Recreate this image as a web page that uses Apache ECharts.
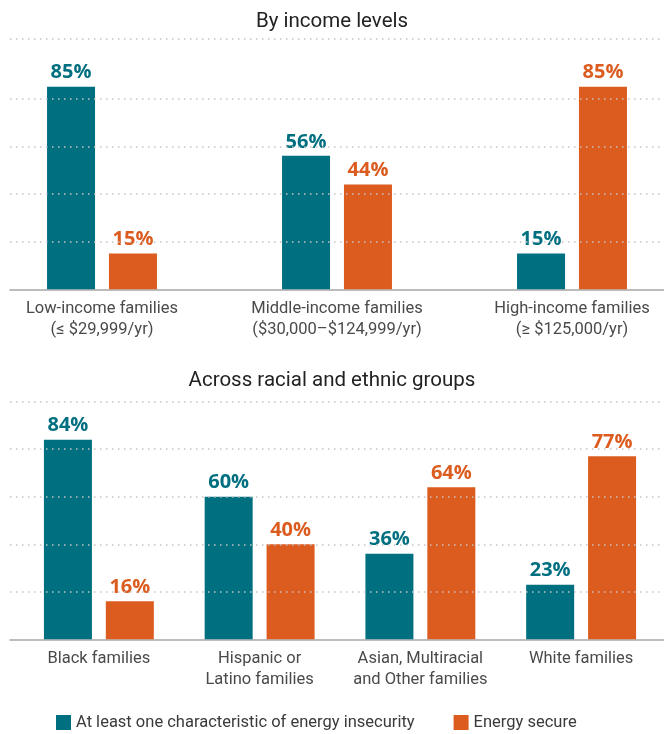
<!DOCTYPE html>
<html>
<head>
<meta charset="utf-8">
<script src="https://cdn.jsdelivr.net/npm/echarts@6/dist/echarts.min.js"></script>
<style>
  html, body { margin: 0; padding: 0; background: #fff; }
  #chart { width: 664px; height: 734px; }
</style>
</head>
<body>
<div id="chart"></div>
<script>
const incomeCats = [
  "Low-income families\n(≤ $29,999/yr)",
  "Middle-income families\n($30,000–$124,999/yr)",
  "High-income families\n(≥ $125,000/yr)",
];
const incomeInsecure = [85, 56, 15];
const incomeSecure = [15, 44, 85];

const raceCats = [
  "Black families",
  "Hispanic or\nLatino families",
  "Asian, Multiracial\nand Other families",
  "White families",
];
const raceInsecure = [84, 60, 36, 23];
const raceSecure = [16, 40, 64, 77];

const incomeGridLines = [20, 40, 60, 80, 105];
const raceGridLines = [20, 40, 60, 80, 100];

const seriesNames = ["At least one characteristic of energy insecurity", "Energy secure"];
const TEAL = "#006f80";
const ORANGE = "#dc5b1f";
const FONT = "Roboto";

const chart = echarts.init(document.getElementById("chart"));

// bars of one chart: label coloured like its bar
const barSeries = (name, data, color, axis) => ({
  name,
  type: "bar",
  xAxisIndex: axis,
  yAxisIndex: axis,
  data,
  barWidth: 48,
  barGap: "29%",
  itemStyle: { color },
  label: {
    show: true,
    position: "top",
    distance: 4,
    formatter: "{c}%",
    color,
    fontFamily: "Open Sans",
    fontWeight: "bold",
    fontSize: 20,
  },
  animation: false,
});

// dotted gridlines drawn on an empty helper series of a full-width grid
const gridSeries = (values, axis) => ({
  type: "line",
  xAxisIndex: axis,
  yAxisIndex: axis,
  data: [],
  silent: true,
  animation: false,
  markLine: {
    silent: true,
    symbol: "none",
    animation: false,
    label: { show: false },
    lineStyle: { color: "#c4c4c4", width: 1.5, type: [1.5, 4.5] },
    data: values.map((v) => ({ yAxis: v })),
  },
});

const catAxis = (data, grid) => ({
  type: "category",
  gridIndex: grid,
  data,
  axisLine: { show: false },
  axisTick: { show: false },
  axisLabel: {
    interval: 0,
    margin: 9,
    color: "#4a4a4a",
    fontFamily: FONT,
    fontSize: 16.5,
    lineHeight: 21,
  },
});

const helperXAxis = (grid) => ({
  type: "value",
  gridIndex: grid,
  min: 0,
  max: 1,
  axisLine: { show: true, onZero: true, lineStyle: { color: "#a6a6a6", width: 1.5 } },
  axisTick: { show: false },
  axisLabel: { show: false },
  splitLine: { show: false },
});

const valAxis = (grid, max) => ({
  type: "value",
  gridIndex: grid,
  min: 0,
  max,
  show: false,
  splitLine: { show: false },
});

const option = {
  backgroundColor: "#fff",
  title: [
    {
      text: "By income levels",
      left: "center",
      top: 6,
      textStyle: { fontFamily: FONT, fontSize: 20.5, fontWeight: "normal", color: "#222" },
    },
    {
      text: "Across racial and ethnic groups",
      left: "center",
      top: 365,
      textStyle: { fontFamily: FONT, fontSize: 20.5, fontWeight: "normal", color: "#222" },
    },
  ],
  legend: {
    data: seriesNames,
    left: 51,
    top: 709,
    icon: "rect",
    itemWidth: 15,
    itemHeight: 15,
    itemGap: 39,
    textStyle: { fontFamily: FONT, fontSize: 16.5, color: "#3a3a3a" },
  },
  grid: [
    { left: -15.5, width: 705, top: 39, height: 250.3, outerBoundsMode: "none" },
    { left: 10, width: 654, top: 39, height: 250.3, outerBoundsMode: "none" },
    { left: 18.5, width: 643, top: 401.7, height: 237.6, outerBoundsMode: "none" },
    { left: 10, width: 654, top: 401.7, height: 237.6, outerBoundsMode: "none" },
  ],
  xAxis: [
    catAxis(incomeCats, 0),
    helperXAxis(1),
    catAxis(raceCats, 2),
    helperXAxis(3),
  ],
  yAxis: [valAxis(0, 105), valAxis(1, 105), valAxis(2, 100), valAxis(3, 100)],
  series: [
    gridSeries(incomeGridLines, 1),
    gridSeries(raceGridLines, 3),
    barSeries(seriesNames[0], incomeInsecure, TEAL, 0),
    barSeries(seriesNames[1], incomeSecure, ORANGE, 0),
    barSeries(seriesNames[0], raceInsecure, TEAL, 2),
    barSeries(seriesNames[1], raceSecure, ORANGE, 2),
  ],
};

chart.setOption(option);
</script>
</body>
</html>
